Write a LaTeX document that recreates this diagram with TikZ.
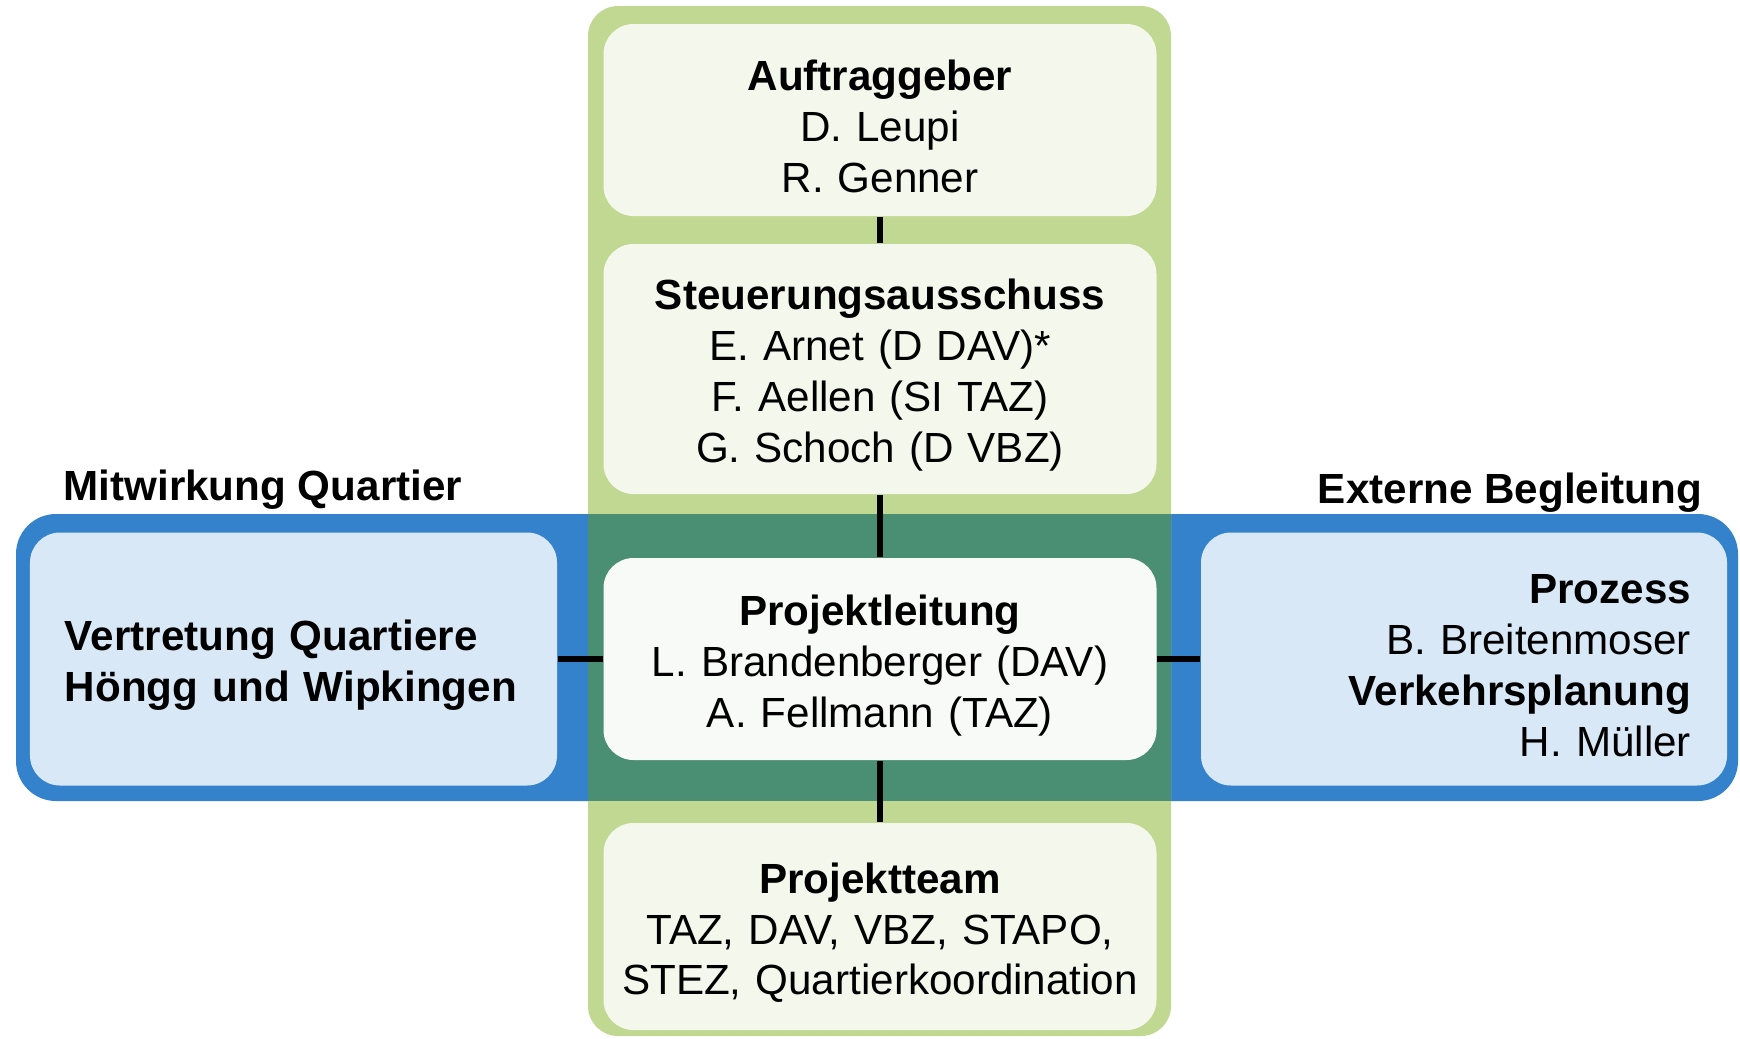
\documentclass[tikz,border=0pt]{standalone}
\usepackage{fontspec}
\setmainfont{Liberation Sans}
\setsansfont{Liberation Sans}
\usetikzlibrary{positioning}
\definecolor{bandGreen}{RGB}{192,216,146}
\definecolor{bandBlue}{RGB}{52,130,204}
\definecolor{bandMix}{RGB}{74,142,116}
\definecolor{boxGreen}{RGB}{243,247,236}
\definecolor{boxBlue}{RGB}{216,232,247}
\definecolor{boxWhite}{RGB}{248,250,247}

\begin{document}
\begin{tikzpicture}[font=\sffamily\fontsize{12}{14.5}\selectfont,
	box/.style={rounded corners=0.3cm, minimum width=5.53cm, text width=5.3cm, align=center, inner sep=0pt,
		execute at begin node={\rule{0pt}{0.43cm}}},
	sidebox/.style={box, fill=boxBlue, minimum width=5.27cm, minimum height=2.53cm, inner xsep=0.35cm},
	link/.style={line width=1.8pt}]
	\def\W{17.4}
	\def\H{10.38}
	\def\gL{5.88}
	\def\gR{11.71}
	\def\bT{-5.14}
	\def\bB{-8.01}

	\useasboundingbox (0,0) rectangle (\W,-\H);

	% bands
	\fill[bandBlue, rounded corners=0.4cm]	(0.16,\bT) rectangle (17.38,\bB);
	\fill[bandGreen, rounded corners=0.3cm]	(\gL,-0.06) rectangle (\gR,-10.36);
	\fill[bandMix]	(\gL,\bT) rectangle (\gR,\bB);

	% boxes
	\node[box, fill=boxGreen, minimum height=1.92cm] (auftrag) at (8.80,-1.20) {\textbf{Auftraggeber}\\D. Leupi\\R. Genner};
	\node[box, fill=boxGreen, minimum height=2.50cm] (steuer) at (8.80,-3.69) {\textbf{Steuerungsausschuss}\\E. Arnet (D DAV)*\\F. Aellen (SI TAZ)\\G. Schoch (D VBZ)};
	\node[box, fill=boxWhite, minimum height=2.02cm] (leitung) at (8.80,-6.59) {\textbf{Projektleitung}\\L. Brandenberger (DAV)\\A. Fellmann (TAZ)};
	\node[box, fill=boxGreen, minimum height=2.07cm] (team) at (8.80,-9.265) {\textbf{Projektteam}\\TAZ, DAV, VBZ, STAPO,\\STEZ, Quartierkoordination};
	\node[sidebox, text width=4.57cm, align=left] (quartier) at (2.935,-6.59) {\textbf{Vertretung Quartiere}\\\textbf{Höngg und Wipkingen}};
	\node[sidebox, minimum width=5.26cm, text width=4.54cm, align=right] (extern) at (14.64,-6.59) {\textbf{Prozess}\\B. Breitenmoser\\\textbf{Verkehrsplanung}\\H. Müller};

	% links
	\draw[link]	(auftrag) -- (steuer);
	\draw[link]	(steuer) -- (leitung);
	\draw[link]	(leitung) -- (team);
	\draw[link]	(quartier) -- (leitung);
	\draw[link]	(leitung) -- (extern);

	% group titles
	\node[anchor=west, inner sep=0pt] (mitwirkung) at (0.63,-4.895) {\textbf{Mitwirkung Quartier}};
	\node[anchor=east, inner sep=0pt] (begleitung) at (17.03,-4.925) {\textbf{Externe Begleitung}};
\end{tikzpicture}
\end{document}
